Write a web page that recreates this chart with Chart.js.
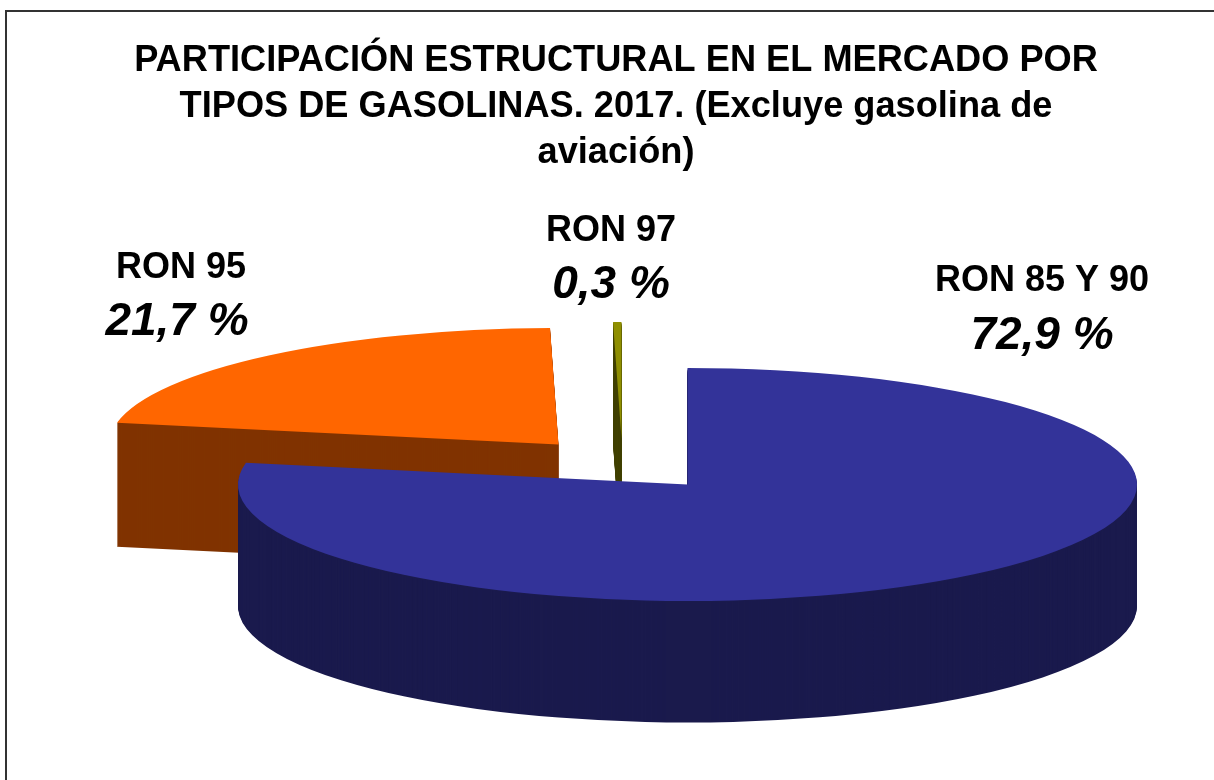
<!DOCTYPE html>
<html lang="es">
<head>
<meta charset="utf-8">
<style>
html,body{margin:0;padding:0;background:#fff;width:1214px;height:780px;overflow:hidden}
#wrap{position:absolute;left:5px;top:10px;width:1220px;height:780px;border-left:2px solid #333;border-top:2px solid #333;box-sizing:border-box}
canvas{display:block}
</style>
<script src="https://cdn.jsdelivr.net/npm/chart.js@4/dist/chart.umd.min.js"></script>
</head>
<body>
<div id="wrap"><canvas id="c" width="1218" height="768"></canvas></div>
<script>
// Data
const categories = ["RON 85 Y 90", "RON 95", "RON 97"];
// Printed percentages, as written on the chart
const printedShares = ["72,9 %", "21,7 %", "0,3 %"];
// Slice sizes as actually drawn in the reference (the blue slice spans about 281 degrees)
const sliceShares = [78.0, 21.7, 0.3];
const titleLines = [
  "PARTICIPACIÓN ESTRUCTURAL EN EL MERCADO POR",
  "TIPOS DE GASOLINAS. 2017. (Excluye gasolina de",
  "aviación)"
];

// Styles
const topColors  = ["#333399", "#FF6600", "#8F8F00"];
const wallColors = ["#1A1A4D", "#803300", "#424200"];
const drawOrder = [2, 1, 0];
const box = {x: 7, y: 12};
const pie = {cx: 687.5 - box.x, cy: 484.5 - box.y, rx: 449.5, ry: 116.5};
const depths = [121.5, 124, 122];
const explode = [{x: 0, y: 0}, {x: -129, y: -40}, {x: -66, y: -46}];
const labelPos = [
  {x: 1042 - box.x, y1: 281 - box.y, y2: 336 - box.y},
  {x: 181 - box.x,  y1: 268 - box.y, y2: 322 - box.y},
  {x: 611 - box.x,  y1: 231 - box.y, y2: 285 - box.y}
];
const percentShiftX = [0, -4, 0];
const FONT = '"Liberation Sans", Arial, sans-serif';

const pie3d = {
  id: "pie3d",
  beforeDatasetDraw(chart) {
    const ctx = chart.ctx;
    const arcs = chart.getDatasetMeta(0).data;
    const paint = (el, color, dx, dy) => {
      const saved = el.options;
      const k = el.outerRadius;
      el.options = Object.create(saved);
      el.options.backgroundColor = color;
      ctx.save();
      ctx.translate(pie.cx + dx, pie.cy + dy);
      ctx.scale(pie.rx / k, pie.ry / k);
      ctx.translate(-el.x, -el.y);
      el.draw(ctx);
      ctx.restore();
      el.options = saved;
    };
    drawOrder.forEach(i => {
      const el = arcs[i], e = explode[i];
      for (let d = depths[i]; d >= 1; d--) paint(el, wallColors[i], e.x, e.y + d);
      paint(el, topColors[i], e.x, e.y);
    });
    return false;
  },
  afterDraw(chart) {
    const ctx = chart.ctx;
    ctx.save();
    ctx.fillStyle = "#000";
    ctx.textAlign = "center";
    ctx.textBaseline = "middle";
    categories.forEach((name, i) => {
      const p = labelPos[i];
      ctx.font = "bold 36px " + FONT;
      ctx.fillText(name, p.x, p.y1);
      ctx.font = "italic bold 46px " + FONT;
      ctx.fillText(printedShares[i], p.x + percentShiftX[i], p.y2);
    });
    ctx.restore();
  }
};

new Chart(document.getElementById("c"), {
  type: "pie",
  data: {
    labels: categories,
    datasets: [{data: sliceShares, backgroundColor: topColors, borderWidth: 0}]
  },
  options: {
    responsive: false,
    animation: false,
    rotation: 0,
    plugins: {
      legend: {display: false},
      tooltip: {enabled: false},
      title: {
        display: true,
        text: titleLines,
        color: "#000",
        padding: {top: 26, bottom: 10},
        font: {family: FONT, size: 36.2, weight: "bold", lineHeight: 1.27}
      }
    }
  },
  plugins: [pie3d]
});
</script>
</body>
</html>
